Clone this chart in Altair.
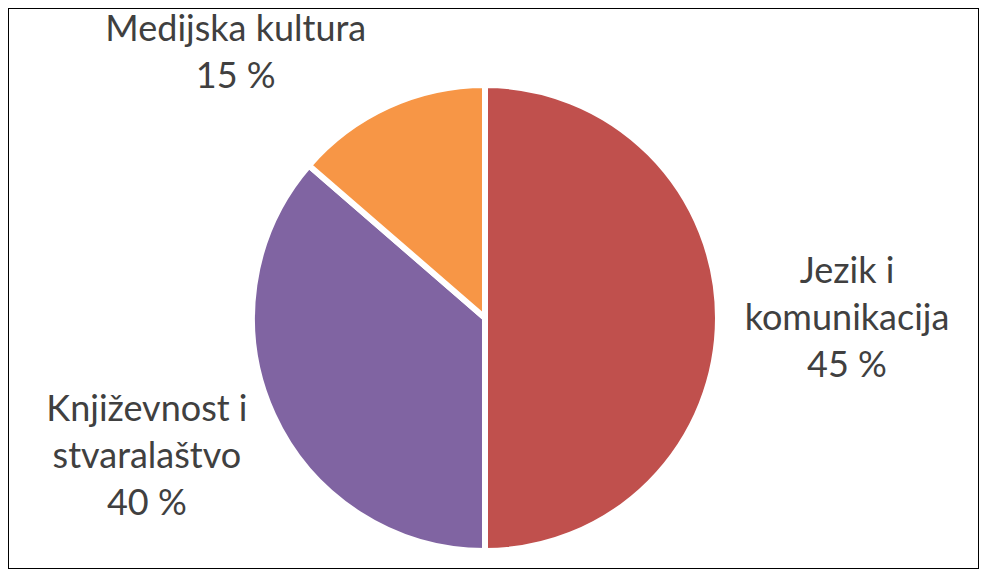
import altair as alt
import pandas as pd

categories = ["Jezik i\nkomunikacija", "Književnost i\nstvaralaštvo", "Medijska kultura"]
values = [11, 8, 3]
percent_labels = ["45 %", "40 %", "15 %"]
colors = ["#C0504D", "#8064A2", "#F79646"]

df = pd.DataFrame({
    "category": categories,
    "value": values,
    "order": list(range(len(categories))),
    "label": [f"{c}\n{p}" for c, p in zip(categories, percent_labels)],
})

W, H = 971, 561
CX, CY = 477, 310
R_LABEL = 364

pie = alt.Chart(df).mark_arc(stroke="white", strokeWidth=6, outerRadius=233).encode(
    theta=alt.Theta("value:Q", stack=True),
    order=alt.Order("order:Q"),
    color=alt.Color("category:N", scale=alt.Scale(domain=categories, range=colors), legend=None),
    x=alt.value(CX),
    y=alt.value(CY),
)

text_base = alt.Chart(df).transform_window(
    cum="sum(value)", sort=[alt.SortField("order")]
).transform_joinaggregate(
    total="sum(value)"
).transform_calculate(
    mid="2*PI*(datum.cum - datum.value/2)/datum.total"
).transform_calculate(
    lx=f"{CX} + {R_LABEL}*sin(datum.mid)",
    ly=f"{CY} - {R_LABEL}*cos(datum.mid)",
)

offsets = {categories[0]: (-2, -46), categories[1]: (-7, -59), categories[2]: (-98, 43)}
layers = [pie]
for cat in categories:
    dx, dy = offsets[cat]
    layers.append(
        text_base.transform_filter(alt.datum.category == cat).mark_text(
            font="Lato", fontSize=36, color="#404040", lineBreak="\n", lineHeight=47,
            align="center", baseline="middle", dx=dx, dy=dy,
        ).encode(
            text="label:N",
            x=alt.X("lx:Q", scale=None),
            y=alt.Y("ly:Q", scale=None),
        )
    )

chart = alt.layer(*layers).properties(
    width=W, height=H, padding=0, autosize=alt.AutoSizeParams(type="none"),
).configure_view(stroke="#000000", strokeWidth=2)

chart.save("out.html", embed_options={"renderer": "svg", "actions": False})
